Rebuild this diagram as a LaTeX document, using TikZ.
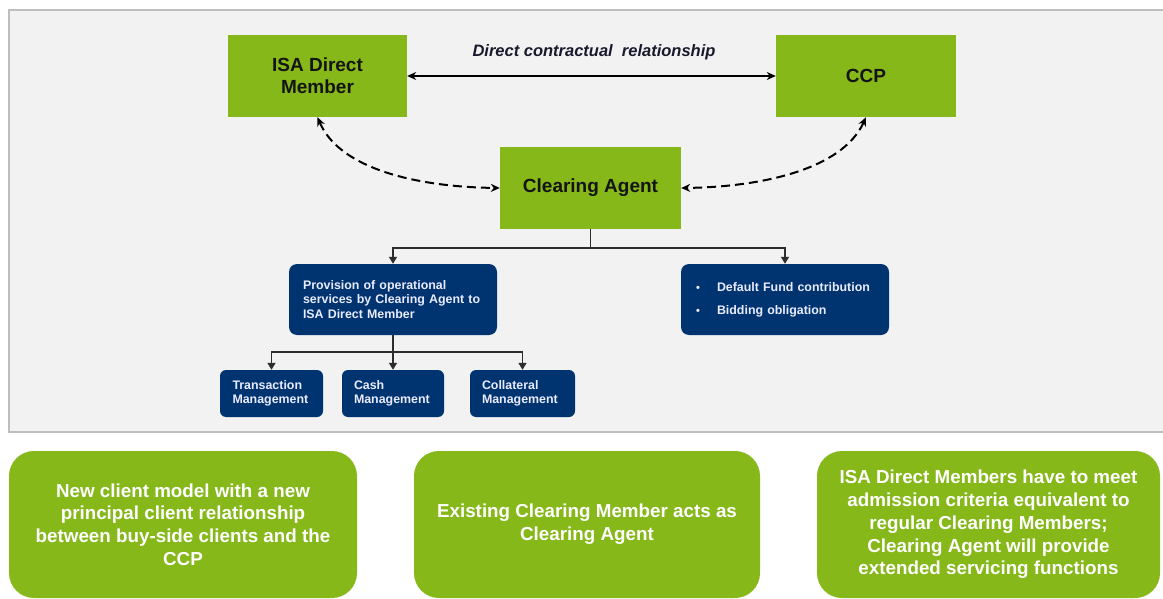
\documentclass[tikz,border=0pt]{standalone}
\usepackage{fontspec}
\setmainfont{Liberation Sans}
\usetikzlibrary{arrows.meta}
\definecolor{pgreen}{RGB}{133,184,24}
\definecolor{pnavy}{RGB}{0,52,112}
\definecolor{pgray}{RGB}{242,242,242}
\definecolor{pborder}{RGB}{190,190,190}
\definecolor{plabel}{RGB}{25,25,45}
\definecolor{pline}{RGB}{45,45,45}
\tikzset{
  topbox/.style={fill=pgreen, draw=none, inner sep=0pt, align=center,
    font=\fontsize{19}{22}\selectfont\bfseries, text=black!92},
  navybox/.style={fill=pnavy, draw=none, rounded corners=8pt, inner sep=0pt, align=left,
    font=\fontsize{12.4}{14.5}\selectfont\bfseries, text=white!92!blue},
  botbox/.style={fill=pgreen, draw=none, rounded corners=25pt, inner sep=0pt, align=center,
    minimum height=147pt, font=\fontsize{18.8}{22.8}\selectfont\bfseries, text=white},
  dbl/.style={{Stealth[length=9pt,width=8pt]}-{Stealth[length=9pt,width=8pt]}, line width=2pt, black},
  dashlink/.style={{Stealth[length=9pt,width=8pt]}-{Stealth[length=9pt,width=8pt]}, line width=2pt, black, dash pattern=on 9pt off 5pt},
  treelink/.style={-{Triangle[length=7pt,width=8pt]}, line width=1.5pt, pline}
}
\newcommand{\pbul}{\makebox[22pt][l]{\hspace{1pt}\fontsize{11}{11}\selectfont\textbullet}}
\begin{document}
\begin{tikzpicture}[x=1pt,y=-1pt]
\useasboundingbox (0,0) rectangle (1163,599);
\fill[white] (0,0) rectangle (1163,599);
\draw[pborder, line width=2pt, fill=pgray] (9,10) rectangle (1175,432);

% top boxes
\node[topbox, minimum width=179pt, minimum height=82pt] (isa) at (317.5,76) {ISA Direct\\Member};
\node[topbox, minimum width=180pt, minimum height=82pt] (ccp) at (866,76) {CCP};
\node[topbox, minimum width=181pt, minimum height=82pt] (ca) at (590.5,188) {Clearing Agent};

\node[font=\fontsize{16.5}{19}\selectfont\bfseries\itshape, text=plabel, inner sep=0pt] (lbl) at (594,52) {Direct contractual\ \ relationship};

\draw[dbl] (isa.east) -- (ccp.west);
\draw[dashlink] (isa.south) .. controls (340,170) and (420,187) .. (ca.west);
\draw[dashlink] (ccp.south) .. controls (842,170) and (760,187) .. (ca.east);

% navy boxes
\node[navybox, minimum width=208pt, minimum height=71pt, text width=180pt] (prov) at (393,299.5)
  {Provision of operational\\services by Clearing Agent to\\ISA Direct Member};
\node[navybox, minimum width=208pt, minimum height=71pt, text width=180pt] (dflt) at (785,299.5)
  {\pbul Default Fund contribution\\[8.5pt]\pbul Bidding obligation};
\node[navybox, minimum width=103pt, minimum height=47pt, text width=78pt, rounded corners=6pt] (tm) at (271.5,393.5)
  {Transaction\\Management};
\node[navybox, minimum width=102pt, minimum height=47pt, text width=78pt, rounded corners=6pt] (cm) at (393,393.5)
  {Cash\\Management};
\node[navybox, minimum width=105pt, minimum height=47pt, text width=81pt, rounded corners=6pt] (colm) at (522.5,393.5)
  {Collateral\\Management};

\draw[treelink] (ca.south) -- ++(0,19) -| (prov.north);
\draw[treelink] (ca.south) -- ++(0,19) -| (dflt.north);
\draw[treelink] (prov.south) -- ++(0,17) -| (tm.north);
\draw[treelink] (prov.south) -- (cm.north);
\draw[treelink] (prov.south) -- ++(0,17) -| (colm.north);

% bottom boxes
\node[botbox, minimum width=348pt] (b1) at (183,524.5)
  {New client model with a new\\principal client relationship\\between buy-side clients and the\\CCP};
\node[botbox, minimum width=346pt] (b2) at (587,524.5)
  {Existing Clearing Member acts as\\Clearing Agent};
\node[botbox, minimum width=343pt] (b3) at (988.5,524.5)
  {ISA Direct Members have to meet\\admission criteria equivalent to\\regular Clearing Members;\\Clearing Agent will provide\\extended servicing functions};
\end{tikzpicture}
\end{document}
